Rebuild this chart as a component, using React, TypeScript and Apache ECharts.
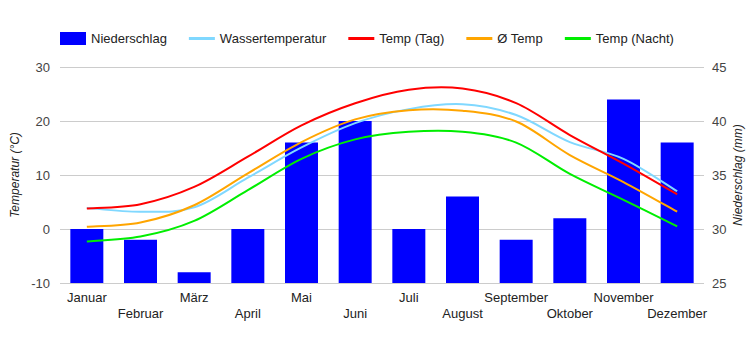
import React, { useEffect, useRef } from "react";
import * as echarts from "echarts";

const months = ["Januar", "Februar", "März", "April", "Mai", "Juni", "Juli", "August", "September", "Oktober", "November", "Dezember"];
const niederschlag = [30, 29, 26, 30, 38, 40, 30, 33, 29, 31, 42, 38];
const wassertemperatur = [3.9, 3.2, 4.0, 9.5, 15.1, 19.6, 22.2, 23.1, 21.1, 16.1, 13.0, 7.0];
const tempTag = [3.8, 4.6, 7.8, 13.4, 19.2, 23.3, 25.8, 26.0, 23.3, 17.4, 12.1, 6.4];
const tempMittel = [0.4, 1.2, 4.4, 10.3, 16.1, 20.3, 22.0, 21.9, 19.9, 13.7, 8.7, 3.2];
const tempNacht = [-2.3, -1.4, 1.5, 7.2, 13.0, 16.6, 18.0, 18.0, 16.0, 10.2, 5.4, 0.5];

const FONT = "'Liberation Sans', Arial, sans-serif";
const LINE_ICON = "path://M0,0H26V3H0Z";
const TENSION = 1 / 6;

export default function App() {
  const ref = useRef<HTMLDivElement>(null);
  useEffect(() => {
    document.body.style.margin = "0";
    if (!ref.current) return;
    const chart = echarts.init(ref.current, null, { renderer: "svg" });
    const curveSeries = (name: string, data: number[], color: string, z: number) => ({
      name,
      type: "custom",
      coordinateSystem: "cartesian2d",
      xAxisIndex: 0,
      yAxisIndex: 0,
      z,
      data: data.map((v, i) => [i, v]),
      encode: { x: 0, y: 1 },
      itemStyle: { color },
      silent: true,
      renderItem: (params: any, api: any) => {
        if (params.dataIndex !== 0) return null;
        const pts: number[][] = data.map((v, i) => api.coord([i, v]));
        let d = `M${pts[0][0]},${pts[0][1]}`;
        for (let i = 0; i < pts.length - 1; i++) {
          const p0 = pts[i - 1] || pts[i];
          const p1 = pts[i];
          const p2 = pts[i + 1];
          const p3 = pts[i + 2] || p2;
          const c1x = p1[0] + (p2[0] - p0[0]) * TENSION;
          const c1y = p1[1] + (p2[1] - p0[1]) * TENSION;
          const c2x = p2[0] - (p3[0] - p1[0]) * TENSION;
          const c2y = p2[1] - (p3[1] - p1[1]) * TENSION;
          d += ` C${c1x},${c1y} ${c2x},${c2y} ${p2[0]},${p2[1]}`;
        }
        return {
          type: "path",
          z2: z,
          shape: { pathData: d },
          style: { fill: "none", stroke: color, lineWidth: 2 },
        };
      },
    });
    chart.setOption({
      animation: false,
      textStyle: { fontFamily: FONT },
      legend: {
        left: 60,
        top: 32,
        padding: 0,
        itemWidth: 26,
        itemHeight: 13,
        itemGap: 22,
        textStyle: { fontSize: 13, color: "#222", fontFamily: FONT },
        data: [
          { name: "Niederschlag", icon: "rect" },
          { name: "Wassertemperatur", icon: LINE_ICON },
          { name: "Temp (Tag)", icon: LINE_ICON },
          { name: "Ø Temp", icon: LINE_ICON },
          { name: "Temp (Nacht)", icon: LINE_ICON },
        ],
      },
      grid: { left: 60, right: 46, top: 67, bottom: 67, containLabel: false, outerBoundsMode: "none" },
      xAxis: {
        type: "category",
        data: months,
        axisLine: { show: false },
        axisTick: { show: false },
        axisLabel: {
          interval: 0,
          hideOverlap: false,
          color: "#222",
          fontSize: 13,
          fontFamily: FONT,
          lineHeight: 16,
          margin: 6,
          formatter: (v: string, i: number) => (i % 2 ? "\n" + v : v),
        },
      },
      yAxis: [
        {
          type: "value",
          min: -10,
          max: 30,
          interval: 10,
          position: "left",
          name: "Temperatur (°C)",
          nameLocation: "middle",
          nameRotate: 90,
          nameGap: 39,
          nameMoveOverlap: false,
          nameTextStyle: { fontStyle: "italic", fontSize: 12, color: "#222", fontFamily: FONT },
          axisLine: { show: false },
          axisTick: { show: false },
          axisLabel: { color: "#444", fontSize: 13, margin: 10, fontFamily: FONT },
          splitLine: { show: true, lineStyle: { color: "#cccccc", width: 1 } },
        },
        {
          type: "value",
          min: 25,
          max: 45,
          interval: 5,
          position: "right",
          name: "Niederschlag (mm)",
          nameLocation: "middle",
          nameRotate: 90,
          nameGap: 28,
          nameMoveOverlap: false,
          nameTextStyle: { fontStyle: "italic", fontSize: 12, color: "#222", fontFamily: FONT },
          axisLine: { show: false },
          axisTick: { show: false },
          axisLabel: { color: "#444", fontSize: 13, margin: 8, fontFamily: FONT },
          splitLine: { show: false },
        },
      ],
      series: [
        {
          name: "Niederschlag",
          type: "bar",
          yAxisIndex: 1,
          z: 2,
          data: niederschlag,
          barWidth: 33,
          itemStyle: { color: "#0000ff" },
        },
        curveSeries("Wassertemperatur", wassertemperatur, "#80d8ff", 5),
        curveSeries("Temp (Tag)", tempTag, "#ff0000", 6),
        curveSeries("Ø Temp", tempMittel, "#ffa500", 7),
        curveSeries("Temp (Nacht)", tempNacht, "#00ee00", 8),
      ],
    });
    return () => chart.dispose();
  }, []);
  return <div ref={ref} style={{ width: 750, height: 350 }} />;
}
